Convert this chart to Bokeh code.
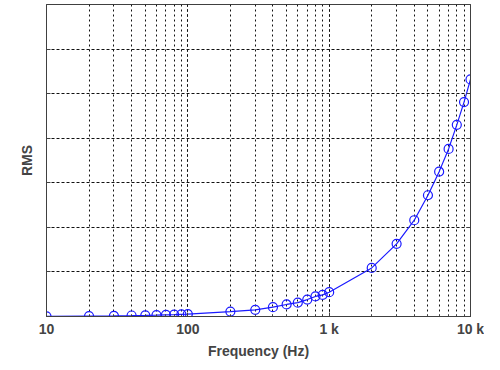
from bokeh.plotting import figure
from bokeh.models import LinearAxis, LogTicker, FixedTicker, Range1d
from bokeh.embed import file_html
from bokeh.resources import INLINE

freq = [10, 20, 30, 40, 50, 60, 70, 80, 90, 100,
        200, 300, 400, 500, 600, 700, 800, 900, 1000,
        2000, 3000, 4000, 5000, 6000, 7000, 8000, 9000, 10000]
rms = [0.005, 0.01, 0.016, 0.022, 0.027, 0.032, 0.038, 0.043, 0.049, 0.054,
       0.11, 0.15, 0.21, 0.27, 0.31, 0.38, 0.45, 0.485, 0.545,
       1.09, 1.63, 2.16, 2.72, 3.25, 3.76, 4.30, 4.81, 5.32]
x_ticks = [10, 100, 1000, 10000]
x_tick_labels = {10: "10", 100: "100", 1000: "1 k", 10000: "10 k"}
y_ticks = [0, 1, 2, 3, 4, 5, 6, 7]

FONT = "Liberation Sans"
AX = "#404040"
GRID = "#111111"

p = figure(x_axis_type="log", output_backend="svg", toolbar_location=None,
           frame_width=424, frame_height=312,
           x_range=Range1d(10, 10000), y_range=Range1d(0, 7),
           min_border_left=46, min_border_right=14, min_border_top=4, min_border_bottom=38)
p.background_fill_color = "white"
p.border_fill_color = "white"
p.outline_line_color = AX
p.outline_line_width = 1

# x axis
xa = p.xaxis[0]
xa.ticker = LogTicker(desired_num_ticks=4, num_minor_ticks=10)
xa.major_label_overrides = x_tick_labels
xa.axis_label = "Frequency (Hz)"
xa.axis_label_text_font = FONT
xa.axis_label_text_font_style = "bold"
xa.axis_label_text_font_size = "14px"
xa.axis_label_standoff = 3
xa.major_label_text_font = FONT
xa.major_label_text_font_style = "bold"
xa.major_label_text_font_size = "14px"
xa.major_label_standoff = 4
xa.axis_line_color = AX
xa.major_tick_line_color = AX
xa.major_tick_in = 4
xa.major_tick_out = 0
xa.minor_tick_in = 2
xa.minor_tick_out = 0
xa.minor_tick_line_color = AX

ya = p.yaxis[0]
ya.ticker = FixedTicker(ticks=y_ticks)
ya.major_label_overrides = {t: "" for t in y_ticks}
ya.major_label_text_font_size = "0px"
ya.major_label_standoff = 0
ya.axis_label = "RMS"
ya.axis_label_text_font = FONT
ya.axis_label_text_font_style = "bold"
ya.axis_label_text_font_size = "14px"
ya.axis_label_standoff = 12
ya.axis_line_color = AX
ya.major_tick_line_color = AX
ya.major_tick_in = 4
ya.major_tick_out = 0
ya.minor_tick_line_color = None

ra = LinearAxis(ticker=FixedTicker(ticks=y_ticks),
                major_label_overrides={t: "" for t in y_ticks},
                major_label_text_font_size="0px", major_label_standoff=0,
                axis_line_color=AX, major_tick_line_color=AX,
                major_tick_in=4, major_tick_out=0, minor_tick_line_color=None)
p.add_layout(ra, "right")

# grids
p.xgrid.ticker = xa.ticker
p.xgrid.grid_line_color = GRID
p.xgrid.grid_line_dash = "2 3"
p.xgrid.grid_line_width = 1
p.xgrid.minor_grid_line_color = GRID
p.xgrid.minor_grid_line_dash = "2 3"
p.ygrid.ticker = ya.ticker
p.ygrid.grid_line_color = GRID
p.ygrid.grid_line_dash = "3 2"

# data
p.line(freq, rms, line_color="#1a1aff", line_width=1.2)
p.scatter(freq, rms, marker="circle", size=9, fill_color=None,
          line_color="#1a1aff", line_width=1.2)

html = file_html(p, INLINE)
open("out.html", "w").write(html)
